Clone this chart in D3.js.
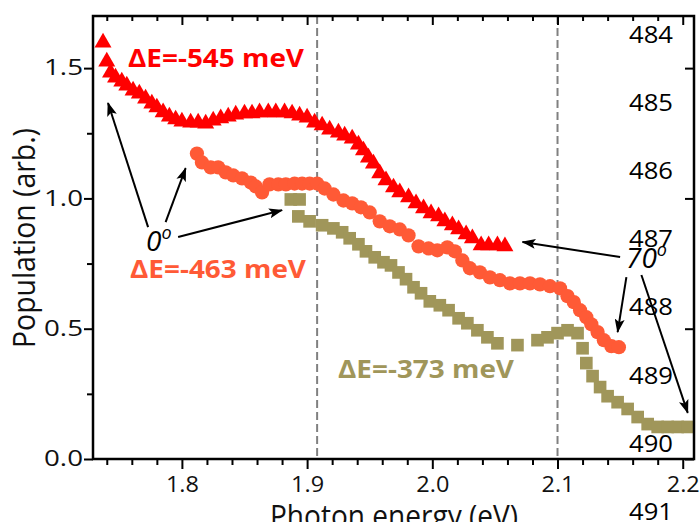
<!DOCTYPE html>
<html>
<head>
<meta charset="utf-8">
<script src="https://cdn.jsdelivr.net/npm/d3@7"></script>
<style>
  body { margin: 0; background: #fff; }
  svg text { font-family: "Open Sans", "Noto Sans", sans-serif; }
</style>
</head>
<body>
<div id="chart-area"></div>
<script>
const chartWidth = 700
const chartHeight = 522
const margin = {top: 16, right: 6, bottom: 63, left: 93}
const width = chartWidth - margin.left - margin.right
const height = chartHeight - margin.top - margin.bottom

// ---- data ----
const xMajorTicks = [1.8, 1.9, 2.0, 2.1, 2.2]
const xMinorTicks = [1.74, 1.76, 1.78, 1.82, 1.84, 1.86, 1.88, 1.92, 1.94, 1.96, 1.98,
                     2.02, 2.04, 2.06, 2.08, 2.12, 2.14, 2.16, 2.18]
const yMajorTicks = [0, 0.5, 1.0, 1.5]
const yMinorTicks = [0.25, 0.75, 1.25]
const dashedEnergies = [1.908, 2.1]
const rightLabels = ["484", "485", "486", "487", "488", "489", "490", "491"]
const seriesLabels = ["\u0394E=-545 meV", "\u0394E=-463 meV", "\u0394E=-373 meV"]
const seriesColors = ["#ff0000", "#ff5a36", "#a0965a"]

// triangles, ΔE=-545 meV
const energy545 = [1.737, 1.740, 1.743, 1.747, 1.752, 1.756, 1.761, 1.766, 1.771, 1.776,
  1.780, 1.785, 1.790, 1.795, 1.800, 1.807, 1.813, 1.819, 1.825, 1.831, 1.837, 1.843,
  1.850, 1.856, 1.862, 1.869, 1.875, 1.882, 1.888, 1.894, 1.900, 1.906, 1.912, 1.918,
  1.925, 1.930, 1.936, 1.941, 1.945, 1.949, 1.953, 1.958, 1.963, 1.969, 1.974, 1.981,
  1.987, 1.993, 1.999, 2.005, 2.010, 2.016, 2.021, 2.027, 2.032, 2.039, 2.045, 2.052, 2.058]
const pop545 = [1.598, 1.525, 1.483, 1.464, 1.448, 1.433, 1.414, 1.402, 1.383, 1.364,
  1.349, 1.330, 1.314, 1.303, 1.295, 1.291, 1.291, 1.287, 1.299, 1.307, 1.314, 1.322,
  1.326, 1.326, 1.330, 1.330, 1.330, 1.330, 1.326, 1.318, 1.310, 1.291, 1.280, 1.264,
  1.253, 1.241, 1.230, 1.207, 1.184, 1.157, 1.134, 1.096, 1.069, 1.042, 1.023, 1.004,
  0.981, 0.962, 0.943, 0.931, 0.912, 0.897, 0.881, 0.862, 0.847, 0.820, 0.820, 0.820, 0.816]

// circles, ΔE=-463 meV
const energy463 = [1.812, 1.816, 1.823, 1.829, 1.835, 1.841, 1.848, 1.855, 1.859, 1.864,
  1.870, 1.877, 1.883, 1.890, 1.896, 1.902, 1.908, 1.914, 1.921, 1.929, 1.936, 1.943,
  1.950, 1.958, 1.966, 1.974, 1.981, 1.989, 1.997, 2.004, 2.012, 2.018, 2.024, 2.030,
  2.038, 2.046, 2.054, 2.062, 2.070, 2.078, 2.086, 2.094, 2.102, 2.108, 2.113, 2.118,
  2.123, 2.127, 2.132, 2.137, 2.143, 2.149]
const pop463 = [1.172, 1.138, 1.119, 1.119, 1.100, 1.088, 1.077, 1.061, 1.046, 1.023,
  1.054, 1.054, 1.054, 1.057, 1.057, 1.057, 1.057, 1.038, 1.015, 0.992, 0.981, 0.966,
  0.946, 0.912, 0.893, 0.881, 0.858, 0.816, 0.808, 0.801, 0.812, 0.797, 0.762, 0.732,
  0.716, 0.697, 0.686, 0.674, 0.674, 0.674, 0.670, 0.663, 0.655, 0.625, 0.602, 0.571,
  0.544, 0.517, 0.487, 0.456, 0.433, 0.429]

// squares, ΔE=-373 meV
const energy373 = [1.887, 1.894, 1.893, 1.902, 1.912, 1.921, 1.928, 1.934, 1.941, 1.947,
  1.954, 1.961, 1.967, 1.973, 1.979, 1.985, 1.991, 1.998, 2.006, 2.013, 2.021, 2.028,
  2.036, 2.044, 2.052, 2.068, 2.084, 2.092, 2.100, 2.108, 2.116, 2.120, 2.123, 2.128,
  2.134, 2.140, 2.148, 2.156, 2.164, 2.172, 2.180, 2.188, 2.196, 2.204]
const pop373 = [0.996, 0.996, 0.931, 0.912, 0.897, 0.885, 0.870, 0.847, 0.824, 0.797,
  0.774, 0.755, 0.743, 0.716, 0.690, 0.659, 0.636, 0.605, 0.590, 0.571, 0.540, 0.521,
  0.494, 0.467, 0.444, 0.437, 0.456, 0.467, 0.483, 0.494, 0.483, 0.425, 0.368, 0.318,
  0.276, 0.241, 0.218, 0.192, 0.161, 0.134, 0.123, 0.123, 0.123, 0.123]

// arrows [fromEnergy, fromPop, toEnergy, toPop]
const arrows0 = [[1.773, 0.890, 1.741, 1.366], [1.787, 0.909, 1.803, 1.116], [1.797, 0.852, 1.880, 0.955]]
const arrows70 = [[2.150, 0.775, 2.072, 0.833], [2.155, 0.698, 2.148, 0.487], [2.167, 0.706, 2.204, 0.177]]

// ---- svg ----
const svg = d3.select("#chart-area").append("svg")
    .attr("width", chartWidth)
    .attr("height", chartHeight)

const g = svg.append("g")
    .attr("transform", `translate(${margin.left}, ${margin.top})`)

const x = d3.scaleLinear().domain([1.729, 2.209]).range([0, width])
const y = d3.scaleLinear().domain([0, 1.7]).range([height, 0])

function stretch(sel, w) {
    sel.attr("textLength", w).attr("lengthAdjust", "spacingAndGlyphs")
}

// dashed guides
g.selectAll(".guide")
    .data(dashedEnergies)
    .enter().append("line")
    .attr("x1", d => x(d)).attr("x2", d => x(d))
    .attr("y1", 0).attr("y2", height)
    .attr("stroke", "#808080")
    .attr("stroke-width", 2)
    .attr("stroke-dasharray", "8,4")

// series
const series = [
    {e: energy545, p: pop545, shape: d3.symbolTriangle, size: 125},
    {e: energy463, p: pop463, shape: d3.symbolCircle, size: 160},
    {e: energy373, p: pop373, shape: d3.symbolSquare, size: 160}
]
series.forEach((s, i) => {
    g.append("g").selectAll("path")
        .data(s.e.map((e, j) => [e, s.p[j]]))
        .enter().append("path")
        .attr("transform", d => `translate(${x(d[0])}, ${y(d[1])})`)
        .attr("d", d3.symbol().type(s.shape).size(s.size))
        .attr("fill", seriesColors[i])
})

// axes
const axisStyle = sel => {
    sel.select(".domain").remove()
    sel.selectAll("line").attr("stroke", "#000").attr("stroke-width", 2)
}

g.append("g")
    .attr("transform", `translate(0, ${height})`)
    .call(d3.axisBottom(x).tickValues(xMajorTicks).tickSize(10).tickPadding(8).tickFormat(d3.format(".1f")))
    .call(axisStyle)
    .call(a => a.selectAll("text")
        .attr("font-size", 21).attr("fill", "#111")
        .call(stretch, 33))

g.append("g")
    .attr("transform", `translate(0, ${height})`)
    .call(d3.axisBottom(x).tickValues(xMinorTicks).tickSize(6).tickFormat(""))
    .call(axisStyle)

g.append("g")
    .call(d3.axisBottom(x).tickValues(xMajorTicks).tickSize(9).tickFormat(""))
    .call(axisStyle)
g.append("g")
    .call(d3.axisBottom(x).tickValues(xMinorTicks).tickSize(5).tickFormat(""))
    .call(axisStyle)

g.append("g")
    .call(d3.axisLeft(y).tickValues(yMajorTicks).tickSize(9).tickPadding(1).tickFormat(d3.format(".1f")))
    .call(axisStyle)
    .call(a => a.selectAll("text")
        .attr("font-size", 21).attr("fill", "#111")
        .call(stretch, 39))

g.append("g")
    .call(d3.axisLeft(y).tickValues(yMinorTicks).tickSize(6).tickFormat(""))
    .call(axisStyle)

g.append("g")
    .attr("transform", `translate(${width}, 0)`)
    .call(d3.axisLeft(y).tickValues(yMajorTicks).tickSize(9).tickFormat(""))
    .call(axisStyle)

// frame
g.append("rect")
    .attr("width", width).attr("height", height)
    .attr("fill", "none")
    .attr("stroke", "#000")
    .attr("stroke-width", 2.5)

// axis titles
svg.append("text")
    .attr("transform", "translate(35, 238) rotate(-90)")
    .attr("text-anchor", "middle")
    .attr("font-size", 31)
    .attr("fill", "#111")
    .text("Population (arb.)")
    .call(stretch, 220)

svg.append("text")
    .attr("x", 270).attr("y", 527)
    .attr("font-size", 31)
    .attr("fill", "#111")
    .text("Photon energy (eV)")
    .call(stretch, 248)

// numbers down the right side
svg.selectAll(".rlab")
    .data(rightLabels)
    .enter().append("text")
    .attr("x", 629)
    .attr("y", (d, i) => 43 + i * 68.1)
    .attr("font-size", 24)
    .attr("fill", "#000")
    .text(d => d)
    .call(stretch, 44)

// series labels
const labelPos = [[128, 67], [130, 278], [338, 378]]
seriesLabels.forEach((t, i) => {
    svg.append("text")
        .attr("x", labelPos[i][0]).attr("y", labelPos[i][1])
        .attr("font-size", 25)
        .attr("font-weight", "bold")
        .attr("fill", seriesColors[i])
        .text(t)
        .call(stretch, 176)
})

// arrows
svg.append("defs").append("marker")
    .attr("id", "head")
    .attr("viewBox", "0 0 14 10")
    .attr("refX", 13).attr("refY", 5)
    .attr("markerWidth", 14).attr("markerHeight", 10)
    .attr("markerUnits", "userSpaceOnUse")
    .attr("orient", "auto")
    .append("path")
    .attr("d", "M0,0 L14,5 L0,10 L3,5 Z")
    .attr("fill", "#000")

g.selectAll(".arrow")
    .data(arrows0.concat(arrows70))
    .enter().append("line")
    .attr("x1", d => x(d[0])).attr("y1", d => y(d[1]))
    .attr("x2", d => x(d[2])).attr("y2", d => y(d[3]))
    .attr("stroke", "#000")
    .attr("stroke-width", 2)
    .attr("marker-end", "url(#head)")

// angle labels
function angleLabel(px, py, num) {
    const t = svg.append("text")
        .attr("x", px).attr("y", py)
        .attr("font-size", 28)
        .attr("font-style", "italic")
        .attr("fill", "#000")
    t.append("tspan").text(num)
    t.append("tspan").attr("font-size", 18).attr("dy", -12).text("o")
}
angleLabel(146, 251, "0")
angleLabel(626, 268, "70")
</script>
</body>
</html>
